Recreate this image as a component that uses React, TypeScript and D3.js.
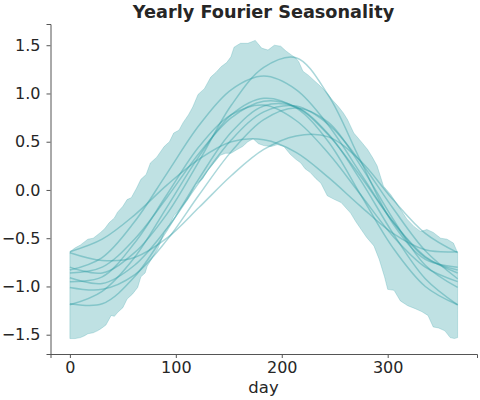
import { useEffect, useRef } from 'react';
import * as d3 from 'd3';

// HDI band edges: [day, value]
const bandUpper: [number, number][] = [
  [0, -0.64], [5, -0.6], [10, -0.57], [17, -0.51], [22, -0.5], [29, -0.44], [33, -0.4], [37, -0.34],
  [42, -0.29], [45, -0.23], [50, -0.17], [54, -0.1], [58, -0.08], [63, 0.02], [67, 0.11], [72, 0.16],
  [76, 0.28], [82, 0.34], [89, 0.45], [94, 0.5], [98, 0.59], [103, 0.62], [107, 0.7], [112, 0.78],
  [116, 0.86], [121, 0.99], [127, 1.05], [133, 1.17], [138, 1.22], [143, 1.28], [148, 1.32], [152, 1.38],
  [155, 1.48], [158, 1.5], [161, 1.52], [168, 1.52], [175, 1.55], [181, 1.47], [187, 1.45], [193, 1.5],
  [199, 1.49], [204, 1.44], [209, 1.4], [213, 1.37], [216, 1.33], [220, 1.23], [225, 1.19], [230, 1.14],
  [236, 1.08], [243, 1.0], [248, 0.93], [253, 0.87], [258, 0.8], [262, 0.73], [268, 0.59], [275, 0.5],
  [281, 0.42], [286, 0.33], [290, 0.25], [296, 0.04], [303, -0.05], [306, -0.1], [312, -0.2], [318, -0.3],
  [325, -0.38], [331, -0.43], [337, -0.41], [343, -0.44], [350, -0.5], [356, -0.51], [362, -0.55], [366, -0.65],
];

const bandLower: [number, number][] = [
  [0, -1.54], [5, -1.54], [10, -1.53], [14, -1.51], [17, -1.49], [22, -1.48], [26, -1.46], [29, -1.44],
  [34, -1.4], [39, -1.3], [42, -1.31], [45, -1.27], [50, -1.22], [54, -1.13], [59, -1.08], [64, -1.01],
  [67, -0.9], [71, -0.86], [73, -0.79], [78, -0.7], [83, -0.61], [86, -0.53], [89, -0.44], [94, -0.36],
  [98, -0.27], [102, -0.22], [106, -0.17], [111, -0.1], [115, -0.02], [119, 0.06], [125, 0.11], [130, 0.2],
  [136, 0.28], [142, 0.36], [147, 0.38], [152, 0.38], [158, 0.42], [163, 0.45], [168, 0.5], [173, 0.53],
  [178, 0.48], [183, 0.46], [190, 0.45], [196, 0.47], [202, 0.45], [208, 0.37], [213, 0.32], [218, 0.28],
  [222, 0.22], [227, 0.18], [232, 0.12], [237, 0.07], [243, -0.06], [250, -0.1], [256, -0.13], [265, -0.24],
  [270, -0.33], [275, -0.41], [280, -0.49], [287, -0.58], [292, -0.72], [297, -0.9], [300, -1.03], [306, -1.04],
  [312, -1.15], [319, -1.2], [326, -1.23], [332, -1.26], [338, -1.3], [343, -1.42], [348, -1.43], [354, -1.46],
  [359, -1.53], [363, -1.54], [366, -1.53],
];

// sample curves, values at these days
const sampleDays = [0, 30.5, 61, 91.5, 122, 152.5, 183, 213.5, 244, 274.5, 305, 335.5, 366];
const samples: number[][] = [
  [-0.64, -0.51, -0.26, 0.05, 0.32, 0.5, 0.52, 0.39, 0.13, -0.17, -0.45, -0.62, -0.64],
  [-0.65, -0.73, -0.7, -0.5, -0.18, 0.15, 0.42, 0.56, 0.55, 0.3, -0.1, -0.45, -0.65],
  [-0.8, -0.86, -0.65, -0.25, 0.3, 0.88, 1.27, 1.37, 0.98, 0.3, -0.35, -0.72, -0.8],
  [-0.83, -0.7, -0.33, 0.17, 0.67, 1.04, 1.18, 1.04, 0.67, 0.17, -0.33, -0.7, -0.83],
  [-0.86, -0.8, -0.51, -0.08, 0.38, 0.75, 0.92, 0.86, 0.57, 0.14, -0.33, -0.69, -0.86],
  [-0.91, -0.97, -0.78, -0.4, 0.08, 0.52, 0.81, 0.87, 0.68, 0.29, -0.19, -0.63, -0.92],
  [-0.95, -0.9, -0.55, -0.05, 0.45, 0.78, 0.88, 0.72, 0.38, -0.05, -0.48, -0.8, -0.95],
  [-1.01, -1.03, -0.88, -0.52, -0.05, 0.4, 0.73, 0.85, 0.7, 0.25, -0.3, -0.78, -1.01],
  [-1.18, -1.18, -0.9, -0.42, 0.12, 0.6, 0.87, 0.86, 0.58, 0.1, -0.45, -0.92, -1.19],
  [-1.19, -1.05, -0.7, -0.18, 0.35, 0.78, 0.95, 0.85, 0.5, -0.05, -0.6, -1.0, -1.19],
];

const xTicks = [0, 100, 200, 300];
const yTicks = [-1.5, -1.0, -0.5, 0.0, 0.5, 1.0, 1.5];

const color = '#2a9aa3';
const ink = '#262626';
const font = '"DejaVu Sans", sans-serif';

const Chart = () => {
  const ref = useRef<SVGSVGElement>(null);

  useEffect(() => {
    const svg = d3.select(ref.current);
    svg.selectAll('*').remove();

    const x = d3.scaleLinear().domain([-18.3, 384.3]).range([50.5, 477]);
    const y = d3.scaleLinear().domain([-1.7, 1.72]).range([354, 24]);

    // band
    const poly = bandUpper.concat(bandLower.slice().reverse());
    const bandLine = d3
      .line<[number, number]>()
      .x((d) => x(d[0]))
      .y((d) => y(d[1]));
    svg
      .append('path')
      .attr('d', bandLine(poly) + 'Z')
      .attr('fill', color)
      .attr('fill-opacity', 0.3)
      .attr('stroke', color)
      .attr('stroke-opacity', 0.3)
      .attr('stroke-width', 0.8);

    // sample lines
    const curve = d3
      .line<number>()
      .x((_, i) => x(sampleDays[i]))
      .y((d) => y(d))
      .curve(d3.curveCatmullRom);
    svg
      .selectAll('path.sample')
      .data(samples)
      .enter()
      .append('path')
      .attr('class', 'sample')
      .attr('d', (d) => curve(d))
      .attr('fill', 'none')
      .attr('stroke', color)
      .attr('stroke-opacity', 0.4)
      .attr('stroke-width', 1.5);

    // axes
    const xAxis = svg
      .append('g')
      .attr('transform', 'translate(0,354)')
      .call(d3.axisBottom(x).tickValues(xTicks).tickFormat(d3.format('d')).tickSizeOuter(0).tickSize(4).tickPadding(4));
    const yAxis = svg
      .append('g')
      .attr('transform', 'translate(50.5,0)')
      .call(d3.axisLeft(y).tickValues(yTicks).tickFormat(d3.format('.1f')).tickSizeOuter(0).tickSize(4).tickPadding(6));

    [xAxis, yAxis].forEach((g) => {
      g.select('.domain').attr('stroke', '#555').attr('stroke-width', 1);
      g.selectAll('.tick line').attr('stroke', '#555');
      g.selectAll('.tick text').attr('fill', ink).attr('font-size', 16).attr('font-family', font);
    });
    yAxis.selectAll<SVGTextElement, number>('.tick text').text((d) => d3.format('.1f')(d).replace('-', '\u2212'));

    svg
      .append('text')
      .attr('x', 263.5)
      .attr('y', 393)
      .attr('text-anchor', 'middle')
      .attr('font-family', font)
      .attr('font-size', 16.5)
      .attr('fill', ink)
      .text('day');

    svg
      .append('text')
      .attr('x', 263.5)
      .attr('y', 18)
      .attr('text-anchor', 'middle')
      .attr('font-family', font)
      .attr('font-size', 17.7)
      .attr('font-weight', 'bold')
      .attr('fill', ink)
      .text('Yearly Fourier Seasonality');
  }, []);

  return <svg ref={ref} width='480' height='400' style={{ display: 'block', background: '#fff' }}></svg>;
};

export default function App() {
  return (
    <div style={{ position: 'fixed', left: 0, top: 0 }}>
      <Chart />
    </div>
  );
}
